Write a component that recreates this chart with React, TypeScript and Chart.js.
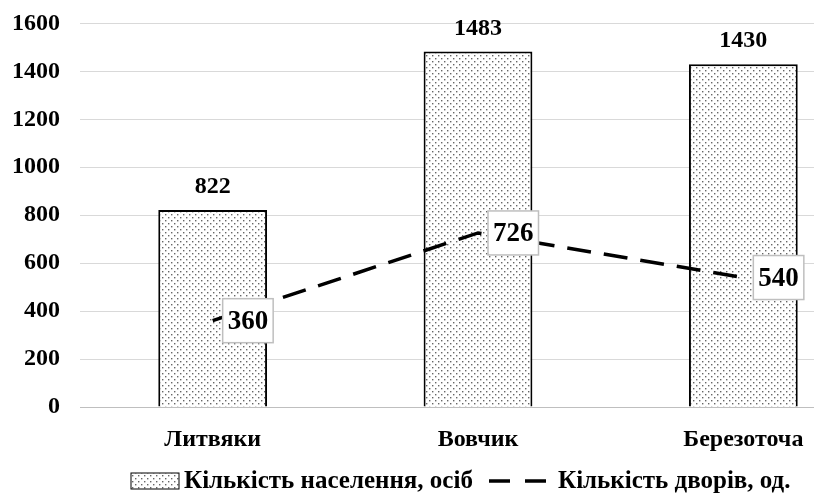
import React, { useEffect, useRef } from "react";
import { Chart, registerables } from "chart.js";

Chart.register(...registerables);

const categories = ["Литвяки", "Вовчик", "Березоточа"];
const population = [822, 1483, 1430];
const households = [360, 726, 540];
const yTicks = [0, 200, 400, 600, 800, 1000, 1200, 1400, 1600];
const legendPop = "Кількість населення, осіб";
const legendHouse = "Кількість дворів, од.";

const FONT = "'Liberation Serif', 'Times New Roman', serif";
const SHIFT = 11;

function makePattern(): CanvasPattern | string {
  const c = document.createElement("canvas");
  c.width = 6;
  c.height = 6;
  const g = c.getContext("2d");
  if (!g) return "#ddd";
  g.fillStyle = "#ffffff";
  g.fillRect(0, 0, 6, 6);
  g.fillStyle = "#666666";
  g.fillRect(0, 0, 1.4, 1.4);
  g.fillRect(3, 3, 1.4, 1.4);
  const p = g.createPattern(c, "repeat");
  return p || "#ddd";
}

export default function App() {
  const ref = useRef<HTMLCanvasElement | null>(null);

  useEffect(() => {
    if (!ref.current) return;
    const pattern = makePattern();

    const labelsPlugin = {
      id: "labelsPlugin",
      afterDatasetsDraw(chart: any) {
        const ctx = chart.ctx;
        ctx.save();
        const barMeta = chart.getDatasetMeta(0);
        ctx.font = `bold 24px ${FONT}`;
        ctx.fillStyle = "#000";
        ctx.textAlign = "center";
        ctx.textBaseline = "bottom";
        barMeta.data.forEach((el: any, i: number) => {
          ctx.fillText(String(population[i]), el.x, el.y - 11);
        });
        const lineMeta = chart.getDatasetMeta(1);
        ctx.font = `bold 27px ${FONT}`;
        ctx.textAlign = "center";
        ctx.textBaseline = "middle";
        lineMeta.data.forEach((el: any, i: number) => {
          const txt = String(households[i]);
          const w = ctx.measureText(txt).width + 10;
          const h = 44;
          const x0 = el.x + 10;
          const y0 = el.y - h / 2;
          ctx.fillStyle = "#fff";
          ctx.fillRect(x0, y0, w, h);
          ctx.strokeStyle = "#bfbfbf";
          ctx.lineWidth = 1.5;
          ctx.strokeRect(x0, y0, w, h);
          ctx.fillStyle = "#000";
          ctx.fillText(txt, x0 + w / 2, el.y + 1);
        });
        ctx.restore();
      },
      afterDraw(chart: any) {
        const ctx = chart.ctx;
        ctx.save();
        const cy = 481 + SHIFT;
        ctx.fillStyle = pattern;
        ctx.fillRect(131, cy - 8, 48, 16);
        ctx.strokeStyle = "#000";
        ctx.lineWidth = 1;
        ctx.strokeRect(131, cy - 8, 48, 16);
        ctx.font = `bold 25px ${FONT}`;
        ctx.fillStyle = "#000";
        ctx.textAlign = "left";
        ctx.textBaseline = "middle";
        ctx.fillText(legendPop, 184, cy + 1);
        ctx.lineWidth = 3.5;
        ctx.setLineDash([21, 15]);
        ctx.beginPath();
        ctx.moveTo(489, cy);
        ctx.lineTo(546, cy);
        ctx.stroke();
        ctx.setLineDash([]);
        ctx.fillText(legendHouse, 558, cy + 1);
        ctx.restore();
      },
    };

    const chart = new Chart(ref.current, {
      type: "bar",
      data: {
        labels: categories,
        datasets: [
          {
            type: "bar",
            label: legendPop,
            data: population,
            backgroundColor: pattern as any,
            borderColor: "#000",
            borderWidth: 2,
            categoryPercentage: 1,
            barPercentage: 0.41,
            order: 1,
          },
          {
            type: "line",
            label: legendHouse,
            data: households,
            borderColor: "#000",
            borderWidth: 3.5,
            borderDash: [24, 13],
            pointRadius: 0,
            fill: false,
            order: 0,
          } as any,
        ],
      },
      options: {
        animation: false,
        responsive: false,
        maintainAspectRatio: false,
        layout: { padding: { top: 1, right: 0, left: 0, bottom: 0 } },
        plugins: {
          legend: { display: false },
          tooltip: { enabled: false },
        },
        scales: {
          x: {
            grid: { display: false, drawTicks: false },
            border: { display: true, color: "#bfbfbf", width: 1 },
            ticks: {
              font: { family: FONT, size: 24, weight: "bold" },
              color: "#000",
              padding: 18,
            },
            afterFit(scale: any) {
              scale.height = 90;
            },
          },
          y: {
            min: 0,
            max: 1600,
            grid: { color: "#d9d9d9", drawTicks: false },
            border: { display: false },
            ticks: {
              stepSize: 200,
              font: { family: FONT, size: 24, weight: "bold" },
              color: "#000",
              padding: 20,
              callback: (v: any) => (yTicks.includes(Number(v)) ? String(v) : ""),
            },
            afterFit(scale: any) {
              scale.width = 80;
            },
          },
        },
      },
      plugins: [labelsPlugin],
    });
    return () => chart.destroy();
  }, []);

  return (
    <div
      style={{
        position: "fixed",
        left: 0,
        top: 0,
        width: 814,
        height: 497,
        overflow: "hidden",
        background: "#fff",
      }}
    >
      <canvas
        ref={ref}
        width={876}
        height={497 + SHIFT}
        style={{ display: "block", marginTop: -SHIFT }}
      />
    </div>
  );
}
